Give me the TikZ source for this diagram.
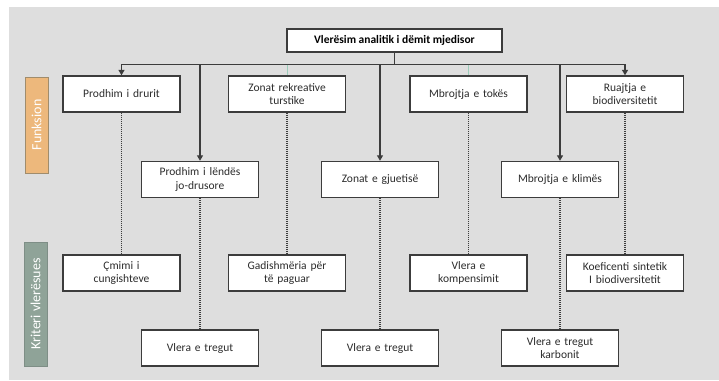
\documentclass[tikz,border=0pt]{standalone}
\usepackage{fontspec}
\setmainfont{Carlito}
\usetikzlibrary{arrows.meta}
\definecolor{bgray}{HTML}{DEDEDE}
\definecolor{boxline}{HTML}{3C3C3C}
\definecolor{txt}{HTML}{2C2C2C}
\definecolor{funk}{HTML}{EDB87C}
\definecolor{funkline}{HTML}{A08C6C}
\definecolor{krit}{HTML}{8FA398}
\definecolor{kritline}{HTML}{7E8E86}
\definecolor{teal}{HTML}{9CCCBA}
\tikzset{
  box/.style={draw=boxline, line width=1.4pt, fill=white, minimum width=117pt, minimum height=36pt,
    text width=112pt, align=center, inner sep=1pt, text=txt, font=\fontsize{11.5}{13.5}\selectfont},
  titlebox/.style={draw=boxline, line width=1.4pt, fill=white, minimum width=215pt, minimum height=23pt,
    inner sep=1pt, text=black, font=\fontsize{11.5}{13}\selectfont\bfseries},
  sidelabel/.style={rotate=90, minimum height=23pt, inner sep=0pt, text=white, font=\fontsize{14}{16}\selectfont},
  arr/.style={draw=boxline, line width=1.3pt, -{Triangle[length=5.5pt,width=6pt]}},
  bus/.style={draw=boxline, line width=1.3pt},
  thin/.style={draw=teal, line width=0.9pt},
  dots/.style={draw=boxline, line width=1.3pt, dash pattern=on 1pt off 1pt}
}
\begin{document}
\begin{tikzpicture}[x=1pt,y=-1pt]
\useasboundingbox (0,0) rectangle (719,380);
\fill[white] (0,0) rectangle (719,380);
\fill[bgray] (9,7) rectangle (719,380);

% side labels
\node[sidelabel, fill=funk, draw=funkline, line width=0.8pt, minimum width=96pt] (funk) at (36.5,125) {Funksion};
\node[sidelabel, fill=krit, draw=kritline, line width=0.8pt, minimum width=124pt] (krit) at (35.5,304) {Kriteri vlerësues};

% title
\node[titlebox] (title) at (394.5,40.5) {Vlerësim analitik i dëmit mjedisor};

% row 1
\node[box] (a1) at (121.5,94) {Prodhim  i drurit};
\node[box] (a2) at (287,94) {Zonat rekreative\\turstike};
\node[box] (a3) at (468.5,94) {Mbrojtja e tokës};
\node[box] (a4) at (625,94) {Ruajtja e\\biodiversitetit};

% row 2
\node[box] (b1) at (200,179.5) {Prodhim  i lëndës\\jo-drusore};
\node[box] (b2) at (380,179.5) {Zonat e gjuetisë};
\node[box] (b3) at (560,179.5) {Mbrojtja e klimës};

% row 3
\node[box] (c1) at (121.5,273) {Çmimi i\\cungishteve};
\node[box] (c2) at (287,273) {Gadishmëria për\\të paguar};
\node[box] (c3) at (468.5,273) {Vlera e\\kompensimit};
\node[box] (c4) at (625,273) {Koeficenti sintetik\\I biodiversitetit};

% row 4
\node[box] (d1) at (200,348) {Vlera e tregut};
\node[box] (d2) at (380,348) {Vlera e tregut};
\node[box] (d3) at (560,348) {Vlera e tregut\\karbonit};

% bus
\draw[bus] (title.south) -- ++(0,11.5) coordinate (bus);
\draw[bus] (bus -| a1.north) -- (bus -| a4.north);
\draw[arr] (bus -| a1.north) -- (a1.north);
\draw[arr] (bus -| a4.north) -- (a4.north);
\draw[thin] (bus -| a2.north) ++(0,0.7) -- (a2.north);
\draw[thin] (bus -| a3.north) ++(0,0.7) -- (a3.north);
\draw[arr] (bus -| b1.north) -- (b1.north);
\draw[arr] (bus -| b2.north) -- (b2.north);
\draw[arr] (bus -| b3.north) -- (b3.north);

% dotted links
\draw[dots] (a1.south) -- (c1.north);
\draw[dots] (a2.south) -- (c2.north);
\draw[dots] (a3.south) -- (c3.north);
\draw[dots] (a4.south) -- (c4.north);
\draw[dots] (b1.south) -- (d1.north);
\draw[dots] (b2.south) -- (d2.north);
\draw[dots] (b3.south) -- (d3.north);
\end{tikzpicture}
\end{document}
